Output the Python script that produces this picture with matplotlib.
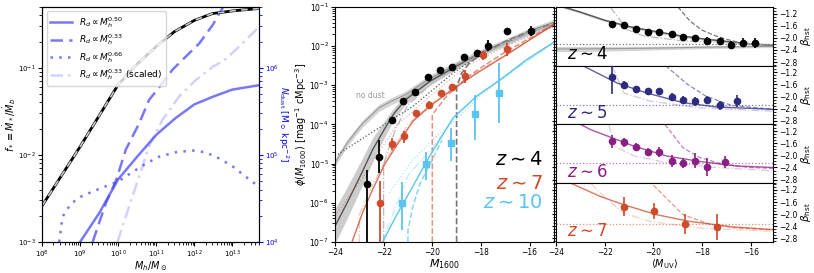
import matplotlib
matplotlib.use('Agg')
import matplotlib.pyplot as plt
import numpy as np
from matplotlib.ticker import MultipleLocator

# ---------------- panel 1: f_star and dust surface density ----------------
mh = [1e8, 1e9, 1e10, 3e10, 1e11, 3e11, 1e12, 3e12, 1e13, 5e13]
fstar = [2.6e-3, 1.24e-2, 0.064, 0.108, 0.176, 0.26, 0.35, 0.42, 0.45, 0.48]

logm_050 = [9.0, 9.5, 10.0, 10.5, 11.0, 11.5, 12.0, 12.5, 13.0, 13.7]
ndust_050 = [4.0, 4.33, 4.72, 4.98, 5.23, 5.42, 5.58, 5.67, 5.75, 5.80]
logm_033 = [9.33, 9.68, 9.94, 10.20, 10.55, 10.81, 11.12, 11.43, 11.78, 12.13, 12.48, 12.76]
ndust_033 = [4.0, 4.45, 4.70, 5.06, 5.36, 5.63, 5.80, 5.98, 6.13, 6.28, 6.49, 6.70]
logm_066 = [8.45, 8.54, 8.76, 9.02, 9.33, 9.68, 9.98, 10.33, 10.73, 11.08, 11.51,
            11.95, 12.30, 12.65, 13.0, 13.35, 13.68]
ndust_066 = [4.0, 4.29, 4.44, 4.52, 4.58, 4.64, 4.69, 4.79, 4.90, 4.98, 5.03,
             5.05, 5.03, 4.96, 4.87, 4.75, 4.64]
logm_sc = [9.98, 10.29, 10.55, 10.81, 11.16, 11.6, 12.04, 12.48, 12.83, 13.26, 13.68]
ndust_sc = [4.0, 4.41, 4.75, 5.1, 5.40, 5.67, 5.86, 6.01, 6.10, 6.28, 6.46]

# ---------------- panel 2: UV luminosity functions ----------------
M4 = [-22.7, -22.18, -21.67, -21.19, -20.69, -20.18, -19.7, -19.19, -18.69, -18.18, -17.7, -16.94, -15.94]
phi4 = [3e-6, 1.5e-5, 1.3e-4, 3.9e-4, 6.8e-4, 1.66e-3, 2.4e-3, 3.0e-3, 5.3e-3, 6.7e-3, 1.03e-2, 2.4e-2, 2.5e-2]
phi4_lo = [1e-8, 5.7e-6, 1.1e-4, 3.5e-4, 6.2e-4, 1.55e-3, 2.25e-3, 2.8e-3, 5.0e-3, 6.2e-3, 7.5e-3, 2.1e-2, 1.85e-2]
phi4_hi = [7e-6, 4.1e-5, 1.5e-4, 4.3e-4, 7.4e-4, 1.78e-3, 2.55e-3, 3.2e-3, 5.6e-3, 7.2e-3, 1.4e-2, 2.7e-2, 3.3e-2]

M7 = [-22.15, -21.66, -21.16, -20.66, -20.15, -19.66, -19.17, -18.66, -17.92, -16.91]
phi7 = [1.0e-6, 3.2e-5, 5e-5, 1.95e-4, 3.2e-4, 6.5e-4, 9.1e-4, 1.7e-3, 5.9e-3, 8.5e-3]
phi7_lo = [1e-8, 2.2e-5, 3.4e-5, 1.6e-4, 2.6e-4, 5.6e-4, 7.8e-4, 1.15e-3, 4.4e-3, 5.5e-3]
phi7_hi = [3.5e-6, 4.4e-5, 7e-5, 2.4e-4, 3.9e-4, 7.6e-4, 1.05e-3, 2.5e-3, 7.5e-3, 1.2e-2]

M10 = [-21.24, -20.25, -19.24, -18.23, -17.26]
phi10 = [1.0e-6, 1.0e-5, 3.4e-5, 1.9e-4, 6.2e-4]
phi10_lo = [2e-7, 3.9e-6, 1.15e-5, 4.1e-5, 1.1e-4]
phi10_hi = [3.3e-6, 2.0e-5, 8.1e-5, 5.8e-4, 3.7e-3]

# model curves (log phi)
lf4_m = [-24, -23.5, -22.9, -22.45, -21.9, -21.56, -21.1, -20.1, -19, -18, -16.9, -15.97, -15]
lf4_dust = [-6.6, -6.0, -5.24, -4.64, -4.05, -3.71, -3.37, -2.9, -2.51, -2.17, -1.88, -1.62, -1.41]
lf4_width = [0.45, 0.4, 0.35, 0.3, 0.2, 0.15, 0.12, 0.1, 0.08, 0.06, 0.05, 0.05, 0.05]
lf4nd_m = [-24, -23.5, -22.9, -22.2, -21.7, -21.1, -20.2, -19, -18, -16.9, -15.97, -15]
lf4_nodust = [-4.98, -4.47, -4.0, -3.58, -3.41, -3.24, -2.86, -2.47, -2.17, -1.88, -1.62, -1.41]
lf4dot_m = [-24, -22.3, -20.8, -19.15, -18, -16, -15]
lf4_dot = [-4.81, -4.13, -3.54, -2.69, -2.2, -1.64, -1.42]
lf4cut_m = [-19.0, -19.0, -18.8, -18.5, -18, -17, -16, -15]
lf4_cut = [-7, -3.05, -2.7, -2.45, -2.2, -1.88, -1.62, -1.41]
lf4dd_m = [-22, -22, -21.5, -21, -20, -19, -18, -16, -15]
lf4_dd = [-7, -5.0, -4.1, -3.5, -2.95, -2.55, -2.2, -1.64, -1.42]

lf7_m = [-23.3, -22.87, -22.45, -21.97, -21.49, -20.8, -20.11, -19.14, -18.04, -16.94, -15.97, -15.0]
lf7 = [-7, -6.26, -5.66, -5.03, -4.56, -3.92, -3.54, -3.09, -2.64, -2.22, -1.83, -1.45]
lf7cut_m = [-20.0, -20.0, -19.42, -18.59, -18.0, -17, -16, -15]
lf7_cut = [-7, -3.75, -3.28, -2.81, -2.55, -2.15, -1.8, -1.44]
lf7dd_m = [-23, -23, -22.5, -22, -21, -20, -19, -18, -16, -15]
lf7_dd = [-7, -6.3, -5.6, -5.0, -4.0, -3.45, -3.0, -2.6, -1.84, -1.46]
lf7dot_m = [-24, -22.73, -21.5, -20.1, -18.6, -16.94, -15]
lf7_dot = [-6.34, -5.24, -4.05, -3.28, -2.51, -2.0, -1.49]

lf10_m = [-22.04, -21.49, -20.8, -20.11, -19.14, -18.18, -17.21, -16.11, -15.0]
lf10 = [-7, -6.34, -5.58, -4.81, -3.83, -3.28, -2.86, -2.34, -1.9]
lf10cut_m = [-21.0, -21.0, -20.8, -20.5, -20.0, -19.6]
lf10_cut = [-7, -6.7, -6.1, -5.5, -4.9, -4.4]
lf10dot_m = [-21.77, -20.8, -19.97, -18.87, -18.0, -16.5, -15]
lf10_dot = [-5.75, -4.9, -4.39, -3.79, -3.25, -2.55, -1.9]
lf10dd_m = [-22, -22, -21.5, -21, -20, -19, -18, -16, -15]
lf10_dd = [-7, -6.9, -6.1, -5.3, -4.6, -3.75, -3.2, -2.34, -1.92]

# ---------------- panel 3: UV slopes ----------------
Mb4 = [-21.72, -21.22, -20.73, -20.24, -19.76, -19.26, -18.78, -18.28, -17.79, -17.29, -16.81, -16.31, -15.82]
b4 = [-1.53, -1.59, -1.70, -1.80, -1.81, -1.89, -1.98, -2.00, -2.10, -2.11, -2.23, -2.16, -2.16]
b4_err = [0.1, 0.08, 0.07, 0.06, 0.06, 0.07, 0.1, 0.1, 0.12, 0.12, 0.13, 0.15, 0.17]
Mb5 = [-21.72, -21.22, -20.73, -20.24, -19.76, -19.26, -18.78, -18.28, -17.79, -17.29, -16.57]
b5 = [-1.35, -1.62, -1.75, -1.83, -1.81, -2.01, -2.12, -2.16, -2.10, -2.29, -2.16]
b5_lo = [0.55, 0.13, 0.1, 0.1, 0.1, 0.12, 0.14, 0.14, 0.13, 0.16, 0.2]
b5_hi = [0.35, 0.13, 0.1, 0.1, 0.1, 0.12, 0.14, 0.14, 0.13, 0.16, 0.2]
Mb6 = [-21.72, -21.22, -20.73, -20.24, -19.76, -19.26, -18.78, -18.28, -17.79, -17.07]
b6 = [-1.54, -1.57, -1.72, -1.89, -1.89, -2.20, -2.25, -2.18, -2.39, -2.23]
b6_err = [0.22, 0.15, 0.13, 0.12, 0.15, 0.2, 0.17, 0.25, 0.3, 0.2]
Mb7 = [-21.22, -19.97, -18.70, -17.41]
b7 = [-1.75, -1.89, -2.31, -2.43]
b7_err = [0.3, 0.27, 0.33, 0.43]

# beta model curves: solid, dashed (cutoff), dash-dot, dotted level
bm4_m = [-23.7, -23, -22, -21, -20, -19, -18, -17, -16, -15.1]
bm4 = [-0.98, -1.15, -1.42, -1.63, -1.78, -1.92, -2.03, -2.12, -2.2, -2.25]
bm4low_m = [-24, -22, -20, -18, -16, -15.1]
bm4low = [-2.37, -2.36, -2.34, -2.31, -2.29, -2.28]
bm4low_w = [0.09, 0.08, 0.06, 0.05, 0.04, 0.04]
bd4_m = [-19.0, -18.5, -18, -17.5, -17, -16.5, -16, -15.1]
bd4 = [-0.98, -1.45, -1.75, -1.92, -2.05, -2.15, -2.2, -2.25]
bdd4_m = [-21.77, -21.1, -20.4, -18.8, -16.1, -15.1]
bdd4 = [-0.98, -1.72, -1.94, -2.1, -2.2, -2.22]

bm5_m = [-22.85, -21.5, -20.28, -18.79, -17.44, -15.1]
bm5 = [-1.0, -1.55, -1.88, -2.2, -2.34, -2.42]
bd5_m = [-19.5, -18.6, -17.84, -16.8, -15.1]
bd5 = [-0.98, -1.6, -1.99, -2.29, -2.42]
bdd5_m = [-21.7, -21.22, -20.14, -18.1, -15.1]
bdd5 = [-0.98, -1.88, -2.15, -2.37, -2.48]

bm6_m = [-22.99, -22.58, -20.82, -19.47, -18.11, -16.62, -15.1]
bm6 = [-0.98, -1.15, -1.69, -2.02, -2.2, -2.35, -2.4]
bd6_m = [-19.53, -18.79, -18.11, -17.17, -16.08, -15.1]
bd6 = [-0.98, -1.75, -2.07, -2.29, -2.4, -2.43]
bdd6_m = [-21.83, -21.6, -20.8, -19.47, -17.44, -15.1]
bdd6 = [-0.98, -1.69, -2.02, -2.24, -2.4, -2.51]

bm7_m = [-23.39, -22.17, -21.22, -19.87, -18.52, -16.76, -15.1]
bm7 = [-0.98, -1.42, -1.69, -2.02, -2.24, -2.42, -2.51]
bd7_m = [-20.0, -18.79, -17.71, -16.62, -15.1]
bd7 = [-1.05, -2.02, -2.33, -2.46, -2.52]
bdd7_m = [-22.58, -22.03, -21.22, -20.14, -18.11, -15.1]
bdd7 = [-0.98, -1.42, -1.97, -2.24, -2.46, -2.57]

dot_levels = [-2.2, -2.29, -2.24, -2.31]

c7 = '#cf4a2a'
c10 = '#5ac4f0'
zcols = ['k', '#2e2a7e', '#8b1e83', c7]

fig = plt.figure(figsize=(8.14, 2.73), dpi=100)

# ===== panel 1 =====
ax1 = fig.add_axes([0.0516, 0.1136, 0.2666, 0.861])
ax1.plot(mh, fstar, color='k', lw=2)
ax1.plot(mh, fstar, color='#c8c8c8', lw=1.2, ls=(0, (4, 3)))
ax1.set_xscale('log')
ax1.set_yscale('log')
ax1.set_xlim(1e8, 5e13)
ax1.set_ylim(1e-3, 0.5)
ax1.set_xlabel(r'$M_h/M_\odot$', fontsize=7, labelpad=0)
ax1.set_ylabel(r'$f_* \equiv \dot{M}_*/\dot{M}_b$', fontsize=7, labelpad=0)
ax1.tick_params(which='both', labelsize=5, length=2, pad=1.5)
ax1.tick_params(which='major', length=3)

ax1b = ax1.twinx()
bl = '#4b4bf5'
ax1b.plot(10**np.array(logm_050), 10**np.array(ndust_050), color=bl, alpha=0.75, lw=1.8, ls='-')
ax1b.plot(10**np.array(logm_033), 10**np.array(ndust_033), color=bl, alpha=0.75, lw=1.8, ls=(0, (5, 2.5)))
ax1b.plot(10**np.array(logm_066), 10**np.array(ndust_066), color=bl, alpha=0.75, lw=1.8, ls=(0, (1, 2.5)))
ax1b.plot(10**np.array(logm_sc), 10**np.array(ndust_sc), color=bl, alpha=0.25, lw=1.8, ls=(0, (5, 2, 1, 2)))
ax1b.set_yscale('log')
ax1b.set_ylim(1e4, 5e6)
ax1b.set_xlim(1e8, 5e13)
ax1b.spines['right'].set_color('b')
ax1b.tick_params(axis='y', which='both', colors='b', labelsize=5, length=2, pad=1.5)
ax1b.tick_params(axis='y', which='major', length=3)
ax1b.set_ylabel(r'$N_{\rm dust}$ [M$_\odot$ kpc$^{-2}$]', color='b', fontsize=6.5, rotation=270, labelpad=8)
ax1.legend(ax1b.lines,
           [r'$R_d \propto M_h^{0.50}$', r'$R_d \propto M_h^{0.33}$',
            r'$R_d \propto M_h^{0.66}$', r'$R_d \propto M_h^{0.33}$ (scaled)'],
           loc='upper left', fontsize=6.5, handlelength=2.5, labelspacing=0.3,
           borderpad=0.35)
ax1.set_zorder(ax1b.get_zorder() + 1)
ax1.patch.set_visible(False)

# ===== panel 2 =====
ax2 = fig.add_axes([0.4115, 0.1136, 0.269, 0.861])
m = np.array(lf4_m)
d = np.array(lf4_dust)
w = np.array(lf4_width)
ax2.fill_between(m, 10**(d - w), 10**(d + w), color='#9a9a9a', alpha=0.5, lw=0)
ax2.plot(m, 10**d, color='#555555', lw=1)
nd = np.array(lf4_nodust)
ax2.fill_between(lf4nd_m, 10**(nd - 0.09), 10**(nd + 0.09), color='#aaaaaa', alpha=0.5, lw=0)
ax2.plot(lf4nd_m, 10**nd, color='#999999', lw=0.8)
ax2.plot(lf4dot_m, 10**np.array(lf4_dot), color='#555555', lw=0.9, ls=':')
ax2.plot(lf4cut_m, 10**np.array(lf4_cut), color='#777777', lw=1.2, ls='--')
ax2.plot(lf4dd_m, 10**np.array(lf4_dd), color='#bbbbbb', lw=0.9, ls='-.')

ax2.plot(lf7_m, 10**np.array(lf7), color=c7, lw=1, alpha=0.8)
ax2.plot(lf7cut_m, 10**np.array(lf7_cut), color=c7, lw=1.1, ls='--', alpha=0.6)
ax2.plot(lf7dd_m, 10**np.array(lf7_dd), color=c7, lw=0.9, ls='-.', alpha=0.3)
ax2.plot(lf7dot_m, 10**np.array(lf7_dot), color=c7, lw=0.9, ls=':', alpha=0.4)

ax2.plot(lf10_m, 10**np.array(lf10), color=c10, lw=1)
ax2.plot(lf10cut_m, 10**np.array(lf10_cut), color=c10, lw=1.1, ls='--', alpha=0.7)
ax2.plot(lf10dd_m, 10**np.array(lf10_dd), color=c10, lw=0.9, ls='-.', alpha=0.35)
ax2.plot(lf10dot_m, 10**np.array(lf10_dot), color=c10, lw=0.9, ls=':', alpha=0.5)

for mm, ph, lo, hi, col, mk in [(M4, phi4, phi4_lo, phi4_hi, 'k', 'o'),
                                (M7, phi7, phi7_lo, phi7_hi, c7, 'o'),
                                (M10, phi10, phi10_lo, phi10_hi, c10, 's')]:
    ph = np.array(ph)
    yerr = [ph - np.array(lo), np.array(hi) - ph]
    ax2.errorbar(mm, ph, yerr=yerr, fmt=mk, color=col, ms=4.5, elinewidth=1.3, capsize=0, zorder=5)

ax2.text(-22.55, 5.5e-4, 'no dust', color='#999999', fontsize=5.5, ha='center', va='center')
ax2.text(-15.45, 1.3e-5, r'$z\sim4$', color='k', fontsize=14, ha='right', va='center')
ax2.text(-15.45, 3.2e-6, r'$z\sim7$', color=c7, fontsize=14, ha='right', va='center')
ax2.text(-15.45, 1.0e-6, r'$z\sim10$', color=c10, fontsize=14, ha='right', va='center')
ax2.set_yscale('log')
ax2.set_xlim(-24, -15)
ax2.set_ylim(1e-7, 1e-1)
ax2.xaxis.set_major_locator(MultipleLocator(2))
ax2.set_xlabel(r'$M_{1600}$', fontsize=8, labelpad=0)
ax2.set_ylabel(r'$\phi(M_{1600})$ [mag$^{-1}$ cMpc$^{-3}$]', fontsize=7, labelpad=0)
ax2.tick_params(which='both', labelsize=5.5, length=2, pad=1.5)
ax2.tick_params(which='major', length=3)

# ===== panel 3 =====
panels = [
    (Mb4, b4, b4_err, b4_err, bm4_m, bm4, bd4_m, bd4, bdd4_m, bdd4),
    (Mb5, b5, b5_lo, b5_hi, bm5_m, bm5, bd5_m, bd5, bdd5_m, bdd5),
    (Mb6, b6, b6_err, b6_err, bm6_m, bm6, bd6_m, bd6, bdd6_m, bdd6),
    (Mb7, b7, b7_err, b7_err, bm7_m, bm7, bd7_m, bd7, bdd7_m, bdd7),
]
h = 0.861 / 4
for i, (mx, bb, lo, hi, sm, sb, dm, db, ddm, ddb) in enumerate(panels):
    ax = fig.add_axes([0.683, 0.1136 + (3 - i) * h, 0.2666, h])
    col = zcols[i]
    if i == 0:
        sbv = np.array(sb)
        ax.fill_between(sm, sbv - 0.04, sbv + 0.04, color='#999999', alpha=0.5, lw=0)
        ax.plot(sm, sbv, color='#555555', lw=1)
        lw_ = np.array(bm4low_w)
        lv = np.array(bm4low)
        ax.fill_between(bm4low_m, lv - lw_, lv + lw_, color='#aaaaaa', alpha=0.5, lw=0)
        ax.plot(bm4low_m, lv, color='#999999', lw=0.8)
        ax.plot(dm, db, color='#777777', lw=0.9, ls='--')
        ax.plot(ddm, ddb, color='#bbbbbb', lw=0.9, ls='-.')
        ax.axhline(dot_levels[i], color='#777777', lw=0.9, ls=':')
    else:
        ax.plot(sm, sb, color=col, lw=1, alpha=0.75)
        ax.plot(dm, db, color=col, lw=0.9, ls='--', alpha=0.55)
        ax.plot(ddm, ddb, color=col, lw=0.9, ls='-.', alpha=0.25)
        ax.axhline(dot_levels[i], color=col, lw=0.9, ls=':', alpha=0.6)
    ax.errorbar(mx, bb, yerr=[lo, hi], fmt='o', color=col, ms=4.5, elinewidth=1.2, capsize=0, zorder=5)
    ax.text(0.05, 0.04, r'$z\sim%d$' % (4 + i), color=col, fontsize=12,
            transform=ax.transAxes, ha='left', va='bottom')
    ax.set_xlim(-24, -15.1)
    ax.set_ylim(-2.92, -0.98)
    ax.yaxis.set_major_locator(MultipleLocator(0.4))
    ax.yaxis.set_minor_locator(MultipleLocator(0.1))
    ax.xaxis.set_major_locator(MultipleLocator(2))
    ax.tick_params(which='both', left=True, right=True, labelleft=False, labelright=True,
                   labelsize=5.5, length=2, pad=1.5)
    ax.tick_params(which='major', length=3)
    ax.yaxis.set_label_position('right')
    ax.set_ylabel(r'$\beta_{\rm hst}$', fontsize=7.5, labelpad=1)
    if i < 3:
        ax.tick_params(axis='x', labelbottom=False)
    else:
        ax.set_xlabel(r'$\langle M_{\rm UV} \rangle$', fontsize=7, labelpad=0)

fig.savefig('out.png', dpi=100)
